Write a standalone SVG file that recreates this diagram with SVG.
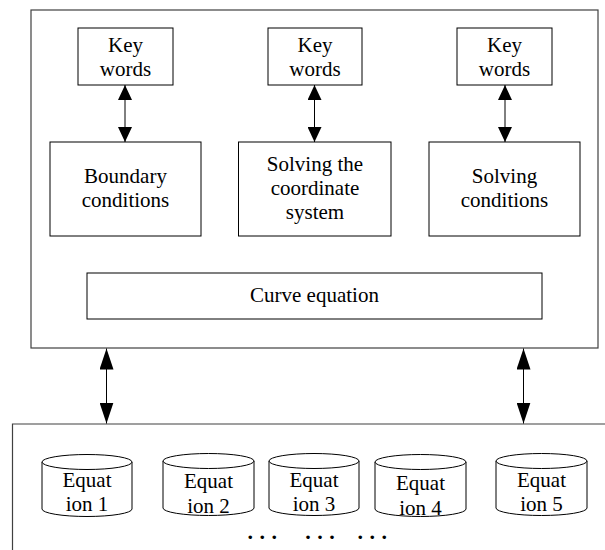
<svg xmlns="http://www.w3.org/2000/svg" width="605" height="550" viewBox="0 0 605 550">
  <defs>
    <style>
      .frame { fill: none; stroke: #404040; stroke-width: 1.2; }
      .box { fill: #fff; stroke: #000; stroke-width: 1; }
      .cyl { fill: #fff; stroke: #000; stroke-width: 1; }
      .lbl { font-family: "Liberation Serif", "Times New Roman", serif; font-size: 21px; fill: #000; text-anchor: middle; }
      .dots { font-family: "Liberation Serif", "Times New Roman", serif; font-size: 22px; font-weight: bold; letter-spacing: 6.5px; fill: #000; }
      .conn { stroke: #000; stroke-width: 1; fill: none; }
      .c-short { marker-start: url(#ahS); marker-end: url(#ahS); }
      .c-long { marker-start: url(#ahL); marker-end: url(#ahL); }
    </style>
    <marker id="ahS" markerUnits="userSpaceOnUse" markerWidth="15" markerHeight="14" refX="15" refY="7" orient="auto-start-reverse" viewBox="0 0 15 14">
      <path d="M0,0 L15,7 L0,14 Z" fill="#000"/>
    </marker>
    <marker id="ahL" markerUnits="userSpaceOnUse" markerWidth="21" markerHeight="14" refX="21" refY="7" orient="auto-start-reverse" viewBox="0 0 21 14">
      <path d="M0,0 L21,7 L0,14 Z" fill="#000"/>
    </marker>
  </defs>

  <rect width="605" height="550" fill="#fff"/>

  <g id="upper-frame">
    <rect class="frame" x="31" y="10" width="567" height="338"/>
  </g>
  <g id="lower-frame">
    <path class="frame" d="M606,424 H12.5 V551"/>
  </g>

  <g id="kw1">
    <rect class="box" x="78" y="28" width="95" height="57"/>
    <text class="lbl" x="125.5" y="52">Key</text>
    <text class="lbl" x="125.5" y="76">words</text>
  </g>
  <g id="kw2">
    <rect class="box" x="268" y="28" width="94" height="57"/>
    <text class="lbl" x="315" y="52">Key</text>
    <text class="lbl" x="315" y="76">words</text>
  </g>
  <g id="kw3">
    <rect class="box" x="457" y="28" width="95" height="57"/>
    <text class="lbl" x="504.5" y="52">Key</text>
    <text class="lbl" x="504.5" y="76">words</text>
  </g>

  <g id="boundary">
    <rect class="box" x="50" y="142" width="151" height="94"/>
    <text class="lbl" x="125.5" y="183">Boundary</text>
    <text class="lbl" x="125.5" y="207">conditions</text>
  </g>
  <g id="coordinate">
    <rect class="box" x="238.5" y="142" width="152.5" height="94"/>
    <text class="lbl" x="315" y="171">Solving the</text>
    <text class="lbl" x="315" y="195">coordinate</text>
    <text class="lbl" x="315" y="219">system</text>
  </g>
  <g id="solving">
    <rect class="box" x="429" y="142" width="151" height="94"/>
    <text class="lbl" x="504.5" y="183">Solving</text>
    <text class="lbl" x="504.5" y="207">conditions</text>
  </g>

  <g id="curve">
    <rect class="box" x="87" y="273" width="455" height="46"/>
    <text class="lbl" x="314.5" y="302">Curve equation</text>
  </g>

  <g id="eq1">
    <path class="cyl" d="M42,462 V509 A45,7.5 0 0 0 132,509 V462"/>
    <ellipse class="cyl" cx="87" cy="462" rx="45" ry="7.5"/>
    <text class="lbl" x="87" y="487">Equat</text>
    <text class="lbl" x="87" y="511">ion 1</text>
  </g>
  <g id="eq2">
    <path class="cyl" d="M163,461 V508 A45.5,7.5 0 0 0 254,508 V461"/>
    <ellipse class="cyl" cx="208.5" cy="461" rx="45.5" ry="7.5"/>
    <text class="lbl" x="208.5" y="488">Equat</text>
    <text class="lbl" x="208.5" y="513">ion 2</text>
  </g>
  <g id="eq3">
    <path class="cyl" d="M269,461 V508 A45,7.5 0 0 0 359,508 V461"/>
    <ellipse class="cyl" cx="314" cy="461" rx="45" ry="7.5"/>
    <text class="lbl" x="314" y="487">Equat</text>
    <text class="lbl" x="314" y="511">ion 3</text>
  </g>
  <g id="eq4">
    <path class="cyl" d="M375,462 V509 A45.5,7.5 0 0 0 466,509 V462"/>
    <ellipse class="cyl" cx="420.5" cy="462" rx="45.5" ry="7.5"/>
    <text class="lbl" x="420.5" y="490">Equat</text>
    <text class="lbl" x="420.5" y="515">ion 4</text>
  </g>
  <g id="eq5">
    <path class="cyl" d="M496,461 V508 A45.5,7.5 0 0 0 587,508 V461"/>
    <ellipse class="cyl" cx="541.5" cy="461" rx="45.5" ry="7.5"/>
    <text class="lbl" x="541.5" y="487">Equat</text>
    <text class="lbl" x="541.5" y="511">ion 5</text>
  </g>

  <g id="ellipsis">
    <text class="dots" x="247.5" y="539">...</text>
    <text class="dots" x="305.2" y="539">...</text>
    <text class="dots" x="357.5" y="539">...</text>
  </g>

  <g id="connectors">
    <line class="conn c-short" x1="125" y1="85" x2="125" y2="142"/>
    <line class="conn c-short" x1="314.5" y1="85" x2="314.5" y2="142"/>
    <line class="conn c-short" x1="505" y1="85" x2="505" y2="142"/>
    <line class="conn c-long" x1="106.5" y1="348.5" x2="106.5" y2="423.5"/>
    <line class="conn c-long" x1="523.5" y1="348.5" x2="523.5" y2="423.5"/>
  </g>
</svg>
